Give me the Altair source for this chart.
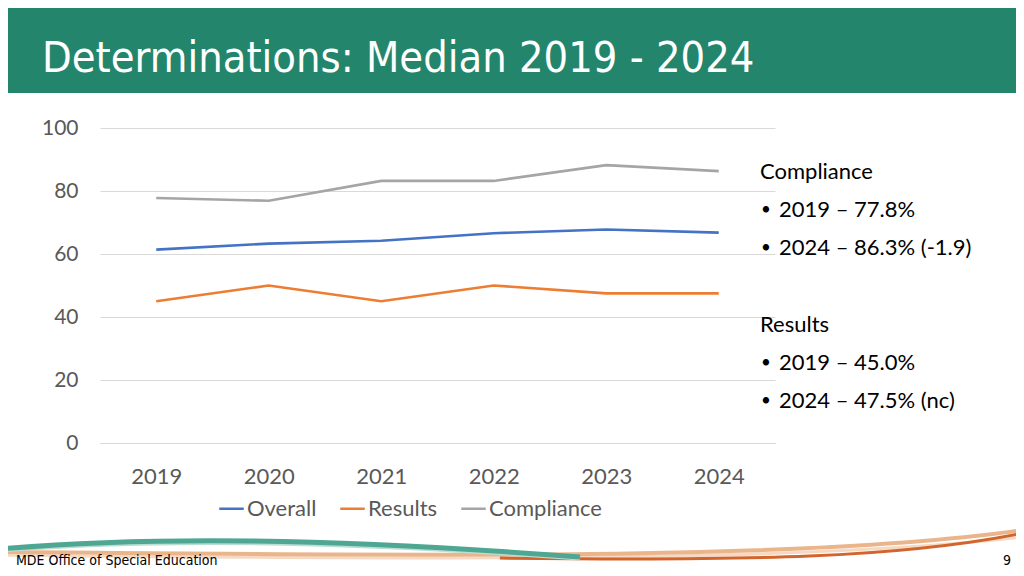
import altair as alt
import pandas as pd

years = ["2019", "2020", "2021", "2022", "2023", "2024"]
overall = [61.4, 63.3, 64.2, 66.6, 67.8, 66.8]
results = [45.0, 50.0, 45.0, 50.0, 47.5, 47.5]
compliance = [77.8, 76.9, 83.2, 83.2, 88.2, 86.3]
series = ["Overall", "Results", "Compliance"]
colors = ["#4472C4", "#ED7D31", "#A5A5A5"]

title_text = "Determinations: Median 2019 - 2024"
note_heads = ["Compliance", "Results"]
note_bullets = ["2019 – 77.8%", "2024 – 86.3% (-1.9)", "2019 – 45.0%", "2024 – 47.5% (nc)"]
footer_left = "MDE Office of Special Education"
footer_right = "9"

rows = []
for name, vals in zip(series, [overall, results, compliance]):
    for y, v in zip(years, vals):
        rows.append({"Year": y, "Series": name, "Value": v})
df = pd.DataFrame(rows)

FONT = "Lato"
GREY = "#595959"

lines = alt.Chart(df).mark_line(strokeWidth=2.6).encode(
    x=alt.X("Year:O", sort=years,
            scale=alt.Scale(type="point", padding=0.5),
            axis=alt.Axis(title=None, labelAngle=0, ticks=False, labelPadding=23,
                          labelFontSize=22, labelColor=GREY, labelFont=FONT,
                          domainColor="#D9D9D9", grid=False)),
    y=alt.Y("Value:Q", scale=alt.Scale(domain=[0, 100], nice=False),
            axis=alt.Axis(title=None, values=[0, 20, 40, 60, 80, 100], ticks=False,
                          domain=False, labelPadding=22, labelFontSize=21,
                          labelColor=GREY, labelFont=FONT, gridColor="#D9D9D9")),
    color=alt.Color("Series:N", scale=alt.Scale(domain=series, range=colors),
                    legend=alt.Legend(title=None, orient="none", legendX=118, legendY=367,
                                      direction="horizontal", symbolType="stroke",
                                      symbolSize=600, symbolStrokeWidth=2.5,
                                      labelFontSize=22, labelColor=GREY, labelFont=FONT,
                                      columnPadding=18, labelOffset=2, symbolOffset=0)),
)

one = pd.DataFrame({"t": [title_text]})
header = alt.Chart(one).mark_rect(color="#23856B").encode(
    x=alt.value(-92), x2=alt.value(916), y=alt.value(-120), y2=alt.value(-35))
title = alt.Chart(one).mark_text(
    align="left", baseline="alphabetic", color="white", fontSize=43,
    font="DejaVu Sans Condensed").encode(
    x=alt.value(-58), y=alt.value(-56), text="t:N")

# decorative footer swoosh (custom symbol paths in the -1..1 unit box)
swoosh_paths = [
    "M -1.016 0.020 C -0.222 0.028 0.571 0.036 1.016 -0.016",
    "M -1.016 0.014 C -0.222 0.020 0.571 0.034 1.016 -0.030",
    "M -0.024 0.026 C 0.472 0.032 0.770 0.026 1.016 -0.024",
    "M -1.016 0.012 C -0.718 -0.012 -0.361 -0.008 0.135 0.028",
    "M -1.016 0.008 C -0.718 -0.018 -0.361 -0.014 0.135 0.024",
]
swoosh_colors = ["#F5D9C2", "#EBB58C", "#D2642C", "#B9DED4", "#4FA793"]
swoosh_widths = [3, 4, 3, 3, 5]
swooshes = [
    alt.Chart(one).mark_point(shape=p, filled=False, stroke=c, strokeWidth=w,
                              size=1016064, opacity=1).encode(
        x=alt.value(412), y=alt.value(417))
    for p, c, w in zip(swoosh_paths, swoosh_colors, swoosh_widths)
]

heads_df = pd.DataFrame({"t": note_heads, "py": [44, 197]})
heads = alt.Chart(heads_df).mark_text(
    align="left", baseline="middle", fontSize=22, font=FONT, color="#000000").encode(
    x=alt.value(660), y=alt.Y("py:Q", scale=None), text="t:N")

bul_df = pd.DataFrame({"t": note_bullets, "py": [82, 120, 235, 273]})
bullets = alt.Chart(bul_df).mark_text(
    align="left", baseline="middle", fontSize=22, font=FONT, color="#000000").encode(
    x=alt.value(679), y=alt.Y("py:Q", scale=None), text="t:N")
dots = alt.Chart(bul_df).mark_text(
    align="left", baseline="middle", fontSize=17, font=FONT, color="#000000").encode(
    x=alt.value(661), y=alt.Y("py:Q", scale=None), text=alt.value("•"))

foot_df = pd.DataFrame({"t": [footer_left, footer_right], "px": [-84, 903]})
footer = alt.Chart(foot_df).mark_text(
    align="left", baseline="middle", fontSize=14, font="DejaVu Sans Condensed",
    color="#000000").encode(
    x=alt.X("px:Q", scale=None), y=alt.value(433), text="t:N")

chart = alt.layer(header, title, *swooshes, lines, heads, bullets, dots, footer).properties(
    width=675, height=315,
    padding={"left": 92, "top": 120, "right": 241, "bottom": 125},
    autosize=alt.AutoSizeParams(type="none"),
).configure(background="white").configure_view(strokeWidth=0, stroke=None)

chart.save("out.html", embed_options={"renderer": "svg", "actions": False})
